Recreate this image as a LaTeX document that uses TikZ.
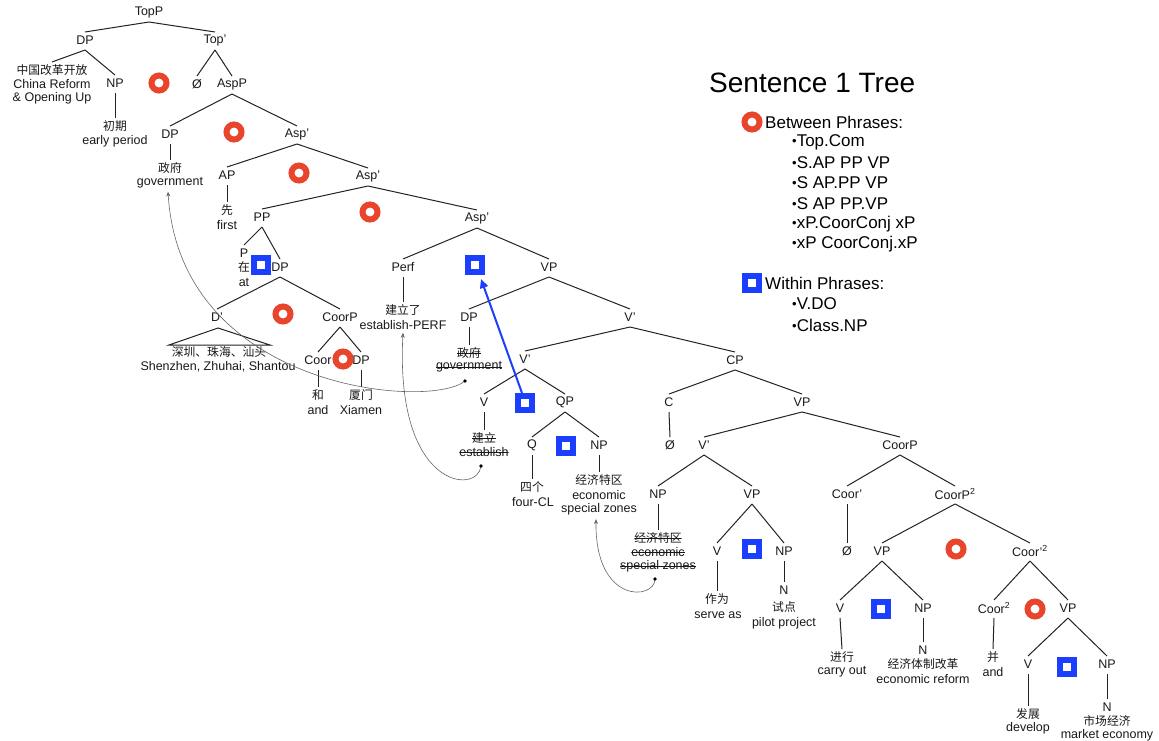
\documentclass[tikz,border=0pt]{standalone}
\usepackage{fontspec}
\setmainfont{Liberation Sans}
\newfontfamily\cjkf{Noto Sans CJK SC}
\usetikzlibrary{arrows.meta}
\definecolor{redc}{RGB}{233,68,44}
\definecolor{bluec}{RGB}{28,62,255}
\definecolor{linec}{RGB}{35,35,35}
\tikzset{
 lab/.style={inner sep=0pt, font=\fontsize{12.5}{14}\selectfont, text=black!90},
 zh/.style={inner sep=0pt, font=\fontsize{11.8}{14}\selectfont\cjkf, text=black!90},
 struck/.style={path picture={\draw[line width=0.8pt, black!90] (path picture bounding box.west) -- (path picture bounding box.east);}},
 tl/.style={draw=linec, line width=1pt},
 rc/.style={circle, draw=redc, fill=white, line width=6pt, minimum size=15pt, inner sep=0pt},
 bsq/.style={rectangle, draw=bluec, fill=white, line width=6pt, minimum size=14pt, inner sep=0pt},
 mv/.style={draw=black!60, line width=0.6pt, -{Stealth[length=5pt,width=4pt]}},
 leg/.style={inner sep=0pt, anchor=west, font=\fontsize{17}{20}\selectfont},
}
\newcommand\tedge[2]{\draw[tl] ([yshift=-10pt]#1.center) -- ([yshift=8pt]#2.center);}
\newcommand\bul{{\fontsize{13}{13}\selectfont\raisebox{1pt}{•}}}
\begin{document}
\begin{tikzpicture}[x=1pt,y=-1pt]
\useasboundingbox[fill=white] (0,0) rectangle (1159,740);
% ---- tree labels
\node[lab] (topp) at (149,12) {TopP};
\node[lab] (dp1) at (85,40) {DP};
\node[lab] (top1) at (215,40) {Top'};
\node[zh] (cr) at (52,70) {中国改革开放};
\node[lab] (cr2) at (52,84) {China Reform};
\node[lab] (cr3) at (52,98) {\& Opening Up};
\node[lab] (np1) at (115,83) {NP};
\node[zh] (cq) at (115,126) {初期};
\node[lab] (ep) at (115,141) {early period};
\node[lab] (o1) at (197,84) {Ø};
\node[lab] (aspp) at (232,84) {AspP};
\node[lab] (dp2) at (170,134) {DP};
\node[zh] (zf1) at (170,168) {政府};
\node[lab] (gov1) at (170,183) {government};
\node[lab] (asp1) at (297,134) {Asp'};
\node[lab] (ap) at (227,175) {AP};
\node[zh] (xian) at (227,210) {先};
\node[lab] (first) at (227,225) {first};
\node[lab] (asp2) at (368,176) {Asp'};
\node[lab] (pp) at (262,217) {PP};
\node[lab] (asp3) at (477,218) {Asp'};
\node[lab] (p) at (244,253) {P};
\node[zh] (zai) at (244,267) {在};
\node[lab] (at) at (244,283) {at};
\node[lab] (dp3) at (280,267) {DP};
\node[lab] (dbar) at (217,317) {D'};
\coordinate (tri) at (218,328);
\coordinate (tril) at (169,345);
\coordinate (trir) at (270,345);
\node[zh] (szs) at (219,352) {深圳、珠海、汕头};
\node[lab] (szs2) at (218,367) {Shenzhen, Zhuhai, Shantou};
\node[lab] (coorp1) at (340,317) {CoorP};
\node[lab] (coor) at (318,360) {Coor};
\node[lab] (dp4) at (361,360) {DP};
\node[zh] (he) at (318,395) {和};
\node[lab] (and1) at (318,410) {and};
\node[zh] (xm) at (361,395) {厦门};
\node[lab] (xm2) at (361,410) {Xiamen};
\node[lab] (perf) at (403,267) {Perf};
\node[zh] (jll) at (403,310) {建立了};
\node[lab] (estp) at (403,325) {establish-PERF};
\node[lab] (vp1) at (549,267) {VP};
\node[lab] (dp5) at (469,317) {DP};
\node[zh,struck] (zf2) at (469,353) {政府};
\node[lab,struck] (gov2) at (469,367) {government};
\node[lab] (vb1) at (630,317) {V'};
\node[lab] (vb2) at (525,359) {V'};
\node[lab] (cp) at (735,360) {CP};
\node[lab] (v1) at (484,402) {V};
\node[zh,struck] (jl) at (484,438) {建立};
\node[lab,struck] (est) at (484,452) {establish};
\node[lab] (qp) at (565,402) {QP};
\node[lab] (q) at (532,445) {Q};
\node[zh] (sg) at (532,487) {四个};
\node[lab] (fcl) at (533,502) {four-CL};
\node[lab] (np2) at (599,445) {NP};
\node[zh] (jj1) at (599,480) {经济特区};
\node[lab] (ec1) at (599,495) {economic};
\node[lab] (sz1) at (599,509) {special zones};
\node[lab] (c) at (669,402) {C};
\node[lab] (o2) at (670,445) {Ø};
\node[lab] (vp2) at (802,402) {VP};
\node[lab] (vb3) at (704,445) {V'};
\node[lab] (coorp2) at (900,445) {CoorP};
\node[lab] (np3) at (658,494) {NP};
\node[zh,struck] (jj2) at (658,538) {经济特区};
\node[lab,struck] (ec2) at (658,552) {economic};
\node[lab,struck] (sz2) at (658,566) {special zones};
\node[lab] (vp3) at (752,494) {VP};
\node[lab] (coorb) at (847,494) {Coor'};
\node[lab] (coorp3) at (955,494) {CoorP\textsuperscript{2}};
\node[lab] (v2) at (717,551) {V};
\node[zh] (zw) at (717,599) {作为};
\node[lab] (sa) at (718,615) {serve as};
\node[lab] (np4) at (784,551) {NP};
\node[lab] (n1) at (784,590) {N};
\node[zh] (sd) at (784,607) {试点};
\node[lab] (pilot) at (784,623) {pilot project};
\node[lab] (o3) at (847,551) {Ø};
\node[lab] (vp4) at (882,551) {VP};
\node[lab] (coorb2) at (1030,551) {Coor'\textsuperscript{2}};
\node[lab] (v3) at (840,608) {V};
\node[zh] (jx) at (842,657) {进行};
\node[lab] (co) at (842,672) {carry out};
\node[lab] (np5) at (923,608) {NP};
\node[lab] (n2) at (923,650) {N};
\node[zh] (jjtz) at (923,664) {经济体制改革};
\node[lab] (er) at (923,679) {economic reform};
\node[lab] (coor2) at (994,608) {Coor\textsuperscript{2}};
\node[zh] (bing) at (993,657) {并};
\node[lab] (and2) at (993,672) {and};
\node[lab] (vp5) at (1068,608) {VP};
\node[lab] (v4) at (1028,664) {V};
\node[zh] (fz) at (1028,714) {发展};
\node[lab] (dev) at (1028,728) {develop};
\node[lab] (np6) at (1107,664) {NP};
\node[lab] (n3) at (1107,707) {N};
\node[zh] (scjj) at (1107,721) {市场经济};
\node[lab] (me) at (1107,735) {market economy};
% ---- tree edges
\tedge{topp}{dp1}\tedge{topp}{top1}
\tedge{dp1}{cr}\tedge{dp1}{np1}
\tedge{np1}{cq}
\tedge{top1}{o1}\tedge{top1}{aspp}
\tedge{aspp}{dp2}\tedge{aspp}{asp1}
\tedge{dp2}{zf1}
\tedge{asp1}{ap}\tedge{asp1}{asp2}
\tedge{ap}{xian}
\tedge{asp2}{pp}\tedge{asp2}{asp3}
\tedge{pp}{p}\tedge{pp}{dp3}
\tedge{dp3}{dbar}\tedge{dp3}{coorp1}
\draw[tl] (tri) -- (tril) -- (trir) -- cycle;
\tedge{coorp1}{coor}\tedge{coorp1}{dp4}
\tedge{coor}{he}\tedge{dp4}{xm}
\tedge{asp3}{perf}\tedge{asp3}{vp1}
\tedge{perf}{jll}
\tedge{vp1}{dp5}\tedge{vp1}{vb1}
\tedge{dp5}{zf2}
\tedge{vb1}{vb2}\tedge{vb1}{cp}
\tedge{vb2}{v1}\tedge{vb2}{qp}
\tedge{v1}{jl}
\tedge{qp}{q}\tedge{qp}{np2}
\tedge{q}{sg}\tedge{np2}{jj1}
\tedge{cp}{c}\tedge{cp}{vp2}
\tedge{c}{o2}
\tedge{vp2}{vb3}\tedge{vp2}{coorp2}
\tedge{vb3}{np3}\tedge{vb3}{vp3}
\tedge{np3}{jj2}
\tedge{vp3}{v2}\tedge{vp3}{np4}
\tedge{v2}{zw}\tedge{np4}{n1}
\tedge{coorp2}{coorb}\tedge{coorp2}{coorp3}
\tedge{coorb}{o3}
\tedge{coorp3}{vp4}\tedge{coorp3}{coorb2}
\tedge{vp4}{v3}\tedge{vp4}{np5}
\tedge{v3}{jx}\tedge{np5}{n2}
\tedge{coorb2}{coor2}\tedge{coorb2}{vp5}
\tedge{coor2}{bing}
\tedge{vp5}{v4}\tedge{vp5}{np6}
\tedge{v4}{fz}\tedge{np6}{n3}
% ---- movement curves
\coordinate (g0) at (465,381);
\coordinate (e0) at (481,466);
\coordinate (s0) at (655,579);
\draw[mv] (g0) .. controls (430,410) and (180,390) .. ([xshift=-2pt,yshift=-3pt]gov1.south);
\draw[mv] (e0) .. controls (478,495) and (395,490) .. ([yshift=-3pt]estp.south);
\draw[mv] (s0) .. controls (655,600) and (595,605) .. ([xshift=-3pt,yshift=-4pt]sz1.south);
\fill[black] (g0) circle (1.8pt);
\fill[black] (e0) circle (1.8pt);
\fill[black] (s0) circle (1.8pt);
% ---- markers
\node[rc] (r1) at (159,83) {};
\node[rc] (r2) at (234,132) {};
\node[rc] (r3) at (299,173) {};
\node[rc] (r4) at (370,212) {};
\node[rc] (r5) at (283,314) {};
\node[rc] (r6) at (343,359) {};
\node[rc] (r7) at (956,549) {};
\node[rc] (r8) at (1035,609) {};
\node[bsq] (b1) at (261,265) {};
\node[bsq] (b2) at (475,265) {};
\node[bsq] (b3) at (525,403) {};
\node[bsq] (b4) at (566,446) {};
\node[bsq] (b5) at (752,549) {};
\node[bsq] (b6) at (881,609) {};
\node[bsq] (b7) at (1067,667) {};
\draw[draw=bluec, line width=2pt, -{Triangle[length=9pt,width=8pt]}] ([xshift=-3pt]b3.north) -- ([xshift=6pt,yshift=-4pt]b2.south);
% ---- legend
\node[font=\fontsize{28}{32}\selectfont, inner sep=0pt, anchor=west] (title) at (709,83) {Sentence 1 Tree};
\node[rc] (lrc) at (752,122) {};
\node[leg] (bp) at (765,122) {Between Phrases:};
\node[leg] (i1) at (792,142) {\bul Top.Com};
\node[leg] (i2) at (792,162.5) {\bul S.AP PP VP};
\node[leg] (i3) at (792,183) {\bul S AP.PP VP};
\node[leg] (i4) at (792,203.5) {\bul S AP PP.VP};
\node[leg] (i5) at (792,224) {\bul xP.CoorConj xP};
\node[leg] (i6) at (792,244.5) {\bul xP CoorConj.xP};
\node[bsq] (lbs) at (752,283) {};
\node[leg] (wp) at (765,283) {Within Phrases:};
\node[leg] (j1) at (792,304) {\bul V.DO};
\node[leg] (j2) at (792,325) {\bul Class.NP};
\end{tikzpicture}
\end{document}
